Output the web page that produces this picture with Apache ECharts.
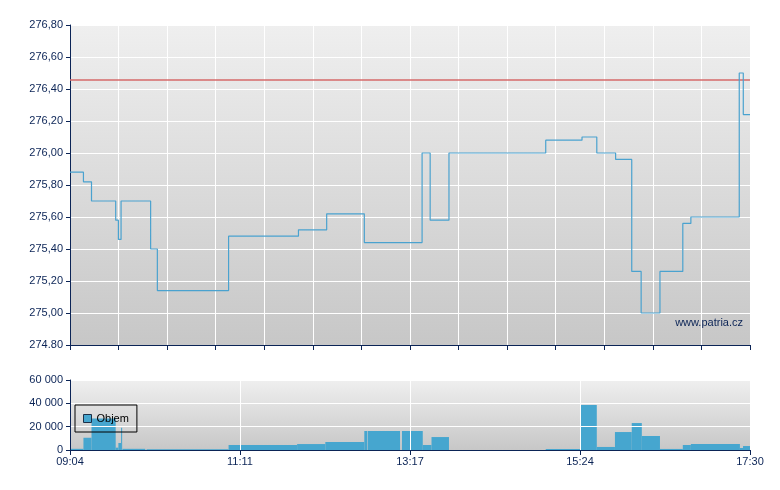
<!DOCTYPE html>
<html>
<head>
<meta charset="utf-8">
<script src="https://cdn.jsdelivr.net/npm/echarts@6/dist/echarts.min.js"></script>
<style>
html,body{margin:0;padding:0;background:#fff;}
#c{width:780px;height:490px;}
</style>
</head>
<body>
<div id="c"></div>
<script>
// Session: 09:04 (minute 0) to 17:30 (minute 506)
const sessionStartMin = 544; // 09:04 in minutes after midnight
const sessionLength = 506;

// Price step line: minute offset of each change and the new price
const priceTimes  = [0, 10, 16, 34, 36, 38, 60, 65, 118, 170, 191, 219, 262, 268, 282, 354, 381, 392, 406, 418, 425, 439, 456, 462, 498, 501, 506];
const priceValues = [275.88, 275.82, 275.70, 275.58, 275.46, 275.70, 275.40, 275.14, 275.48, 275.52, 275.62, 275.44, 276.00, 275.58, 276.00, 276.08, 276.10, 276.00, 275.96, 275.26, 275.00, 275.26, 275.56, 275.60, 276.50, 276.24, 276.24];

// Previous close reference line
const prevClose = 276.46;

// Price axis tick labels (as printed)
const priceTickLabels = ['274.80','275,00','275,20','275,40','275,60','275,80','276,00','276,20','276,40','276,60','276,80'];

// Volume bars: start minute, end minute, volume
const volStart = [0, 10, 16, 34, 36, 38, 39, 57, 118, 169, 190, 219, 221.6, 247, 262.5, 269, 354, 380, 392, 405.5, 418, 425.5, 439, 456, 462, 498.5, 500.8];
const volEnd   = [10, 16, 34, 36, 38, 38.8, 56, 118, 169, 190, 219, 221.2, 245.6, 262.5, 269, 282, 380, 392, 405.5, 418, 425.5, 439, 456, 462, 498.5, 500.8, 506];
const volValue = [1000, 10500, 27000, 2000, 6000, 19000, 1000, 700, 4300, 5100, 6900, 16300, 16300, 16300, 4300, 11100, 900, 38600, 2600, 15400, 23100, 12000, 900, 4300, 5100, 1700, 3400];

const navy = '#0b2456';
const font = "'Liberation Sans', Arial, sans-serif";
const bg = () => new echarts.graphic.LinearGradient(0, 0, 0, 1, [
  {offset: 0, color: '#efefef'}, {offset: 1, color: '#c7c7c7'}
]);

function fmtTime(v) {
  const t = Math.round(sessionStartMin + v);
  const h = Math.floor(t / 60), m = t % 60;
  return (h < 10 ? '0' : '') + h + ':' + (m < 10 ? '0' : '') + m;
}

const chart = echarts.init(document.getElementById('c'), null, {renderer: 'canvas'});
chart.setOption({
  animation: false,
  backgroundColor: '#ffffff',
  textStyle: {fontFamily: font},
  grid: [
    {left: 70, top: 25, width: 680, height: 320, show: true, backgroundColor: bg(), borderWidth: 0},
    {left: 70, top: 380, width: 680, height: 70, show: true, backgroundColor: bg(), borderWidth: 0}
  ],
  legend: {
    data: ['Objem'],
    left: 75, top: 405,
    padding: [8, 8, 8, 8],
    borderColor: '#000', borderWidth: 1,
    itemWidth: 8, itemHeight: 8,
    icon: 'rect',
    itemStyle: {borderColor: '#1c3048', borderWidth: 1},
    textStyle: {fontSize: 11, color: '#000', fontFamily: font}
  },
  xAxis: [
    {
      gridIndex: 0, type: 'value', min: 0, max: sessionLength, interval: sessionLength / 14,
      axisLine: {show: true, lineStyle: {color: navy, width: 1}},
      axisTick: {show: true, length: 5, lineStyle: {color: navy}},
      axisLabel: {show: false},
      splitLine: {show: true, lineStyle: {color: '#ffffff', width: 1}}
    },
    {
      gridIndex: 1, type: 'value', min: 0, max: sessionLength, interval: sessionLength / 4, z: 3,
      axisLine: {show: true, lineStyle: {color: navy, width: 1}},
      axisTick: {show: true, length: 5, lineStyle: {color: navy}},
      axisLabel: {show: true, color: navy, fontSize: 11, fontFamily: font, margin: 6, formatter: fmtTime},
      splitLine: {show: true, lineStyle: {color: '#ffffff', width: 1}}
    }
  ],
  yAxis: [
    {
      gridIndex: 0, type: 'value', min: 274.8, max: 276.8, interval: 0.2,
      axisLine: {show: true, lineStyle: {color: navy, width: 1}},
      axisTick: {show: true, length: 4, lineStyle: {color: navy}},
      axisLabel: {color: navy, fontSize: 11, fontFamily: font, margin: 7,
        formatter: v => priceTickLabels[Math.round((v - 274.8) / 0.2)] || ''},
      splitLine: {show: true, lineStyle: {color: '#ffffff', width: 1}}
    },
    {
      gridIndex: 1, type: 'value', min: 0, max: 60000, interval: 20000, z: 3,
      axisLine: {show: true, lineStyle: {color: navy, width: 1}},
      axisTick: {show: true, length: 4, lineStyle: {color: navy}},
      axisLabel: {color: navy, fontSize: 11, fontFamily: font, margin: 7,
        formatter: v => v === 0 ? '0' : (v / 1000) + ' 000'},
      splitLine: {show: true, lineStyle: {color: '#ffffff', width: 1}}
    }
  ],
  graphic: [{
    type: 'text', right: 37, top: 317, z: 10,
    style: {text: 'www.patria.cz', fill: navy, font: "11px 'Liberation Sans', Arial, sans-serif"}
  }],
  series: [
    {
      name: 'Cena', type: 'line', xAxisIndex: 0, yAxisIndex: 0,
      step: 'end', showSymbol: false, symbol: 'none',
      data: priceTimes.map((t, i) => [t, priceValues[i]]),
      lineStyle: {color: '#4aa2cf', width: 1.2},
      itemStyle: {color: '#4aa2cf'},
      markLine: {
        silent: true, symbol: 'none', label: {show: false},
        lineStyle: {color: '#d66a6a', width: 1.6, type: 'solid'},
        data: [{yAxis: prevClose}]
      },
      z: 5
    },
    {
      name: 'Objem', type: 'custom', xAxisIndex: 1, yAxisIndex: 1, z: 1,
      itemStyle: {color: '#46a6cf'},
      encode: {x: [0, 1], y: 2},
      data: volStart.map((s, i) => [s, volEnd[i], volValue[i]]),
      renderItem: function (params, api) {
        const p0 = api.coord([api.value(0), api.value(2)]);
        const p1 = api.coord([api.value(1), 0]);
        return {
          type: 'rect',
          shape: {x: p0[0], y: p0[1], width: p1[0] - p0[0], height: p1[1] - p0[1]},
          style: {fill: '#46a6cf'}
        };
      }
    }
  ]
});
</script>
</body>
</html>
